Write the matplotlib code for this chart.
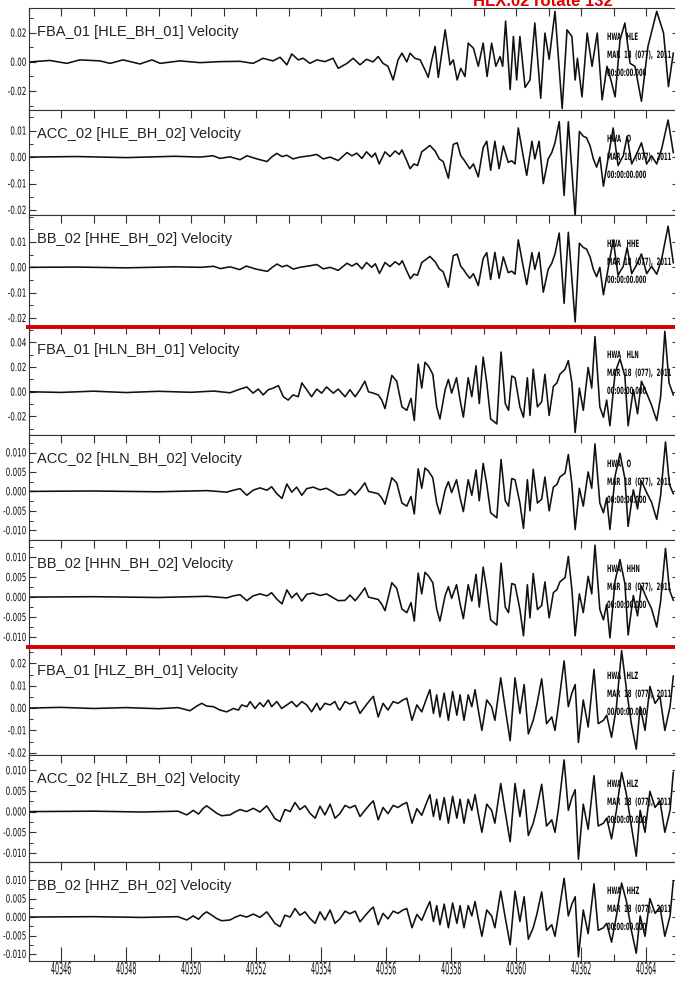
import matplotlib

matplotlib.use('Agg')
import matplotlib.pyplot as plt
import numpy as np
from matplotlib import patheffects
from matplotlib.ticker import FixedLocator, FormatStrFormatter, MultipleLocator
from matplotlib.transforms import Affine2D

plt.rcParams['axes.unicode_minus'] = False

W, H = 675, 988
T0 = 40345  # trace sample times are seconds after this mark
XLIM = (40345, 40365)

# (seconds after T0, velocity) picks along each trace
fba01_hle = [(0.05, 0), (0.66, 0.001), (1.18, -0.001), (1.58, 0.0014), (2.2, 0.0007), (2.51, -0.001),
             (2.91, 0.0014), (3.43, -0.0014), (3.8, 0.0014), (4.05, -0.001), (4.66, 0.0007), (5.28, -0.0005),
             (5.89, 0.0002), (6.51, 0.0004), (6.91, -0.001), (7.22, 0.0025), (7.52, 0.0007), (7.74, 0.0032),
             (7.95, -0.002), (8.1, 0.0055), (8.3, 0.0014), (8.45, 0.0025), (8.66, -0.001), (8.87, 0.0014),
             (9.12, 0.0002), (9.37, 0.0025), (9.53, -0.0044), (9.8, -0.001), (9.99, 0.0025), (10.2, -0.002),
             (10.4, 0.0018), (10.6, 0), (10.76, 0.0037), (10.91, -0.001), (11.06, -0.003), (11.22, -0.0124),
             (11.37, 0.0014), (11.49, 0.006), (11.64, 0), (11.74, 0.006), (11.89, 0.0025), (12.05, 0.0014),
             (12.2, -0.0055), (12.3, -0.0106), (12.41, 0.0014), (12.51, 0.0106), (12.61, -0.0106), (12.82, 0.022),
             (12.97, -0.002), (13.07, 0.0014), (13.19, -0.0124), (13.3, -0.0044), (13.43, -0.01), (13.53, 0.0129),
             (13.69, 0.0094), (13.84, -0.003), (13.99, 0.0129), (14.11, -0.01), (14.25, 0.0129), (14.38, -0.003),
             (14.51, 0.0037), (14.59, -0.003), (14.68, 0.028), (14.82, -0.019), (14.92, 0.0175), (15.02, -0.0124),
             (15.12, 0.0175), (15.28, -0.0175), (15.43, -0.0124), (15.58, 0.0267), (15.76, -0.025), (15.89, 0.0198),
             (16.02, 0.0018), (16.2, 0.0347), (16.42, -0.032), (16.57, 0.022), (16.72, 0.0175), (16.82, -0.0124),
             (16.89, 0.0025), (17.03, -0.024), (17.19, 0.0198), (17.34, -0.003), (17.5, 0.0198), (17.65, -0.026),
             (17.8, -0.003), (17.92, -0.0124), (18.05, -0.024), (18.2, 0.015), (18.35, 0.0267), (18.51, -0.001),
             (18.66, -0.003), (18.86, -0.027), (19.06, 0.0106), (19.33, 0.0347), (19.54, 0.0198), (19.69, -0.017),
             (19.84, 0.006)]

acc02_hle = [(0.05, 0), (1.5, 0.0002), (3.0, -0.0002), (4.5, 0.0003), (5.28, 0), (5.68, 0.0005), (5.89, -0.0005),
             (6.2, 0.0001), (6.51, -0.001), (6.72, 0.0005), (7.03, -0.0007), (7.34, -0.0017), (7.48, 0),
             (7.64, 0.0014), (7.8, 0.0002), (7.95, 0.0007), (8.14, -0.0007), (8.35, 0), (8.66, 0.0005),
             (8.87, 0.001), (9.07, -0.0007), (9.28, 0), (9.53, -0.0013), (9.8, 0.0017), (9.95, 0.0005),
             (10.1, 0.0015), (10.26, -0.0005), (10.4, 0.002), (10.56, 0), (10.67, 0.0015), (10.79, -0.0026),
             (10.97, 0.002), (11.12, 0.0002), (11.28, 0.0023), (11.41, 0.001), (11.49, 0.0027), (11.64, -0.0014),
             (11.74, -0.0044), (11.86, -0.0026), (11.97, -0.0032), (12.1, 0.002), (12.23, 0.0032), (12.35, 0.0044),
             (12.51, 0.0023), (12.64, -0.0007), (12.76, -0.0017), (12.92, -0.008), (13.07, 0.0048), (13.19, 0.0054),
             (13.3, 0.0005), (13.38, -0.0007), (13.48, -0.0026), (13.58, -0.0044), (13.69, -0.0026), (13.84, -0.0075),
             (13.99, 0.0036), (14.1, 0.006), (14.22, -0.005), (14.35, 0.006), (14.48, -0.0044), (14.61, 0.0042),
             (14.76, -0.002), (14.87, -0.0014), (14.97, -0.0026), (15.07, 0.011), (15.22, 0.0005), (15.33, -0.0069),
             (15.49, 0.006), (15.58, -0.0007), (15.71, 0.006), (15.84, -0.01), (15.99, -0.0007), (16.1, 0.0017),
             (16.2, 0.0054), (16.33, 0.0134), (16.48, -0.0145), (16.61, 0.0134), (16.82, -0.0223), (16.95, 0.0097),
             (17.07, 0.0079), (17.17, 0.0073), (17.28, 0.0042), (17.38, -0.0007), (17.48, -0.0038), (17.58, 0),
             (17.69, -0.011), (17.83, -0.0007), (17.99, 0.011), (18.14, -0.0032), (18.3, 0.0005), (18.42, 0.0079),
             (18.56, -0.0026), (18.71, 0.0011), (18.86, 0.0054), (19.02, -0.0026), (19.17, 0.0005), (19.33, -0.0026),
             (19.48, 0.003), (19.68, 0.014), (19.84, 0.0017)]

bb02_hhe = [(0.05, 0), (1.5, 0.0001), (3.0, -0.0002), (4.5, 0.0002), (5.3, 0), (5.7, 0.0004), (5.9, -0.0005),
            (6.2, 0.0002), (6.5, -0.0009), (6.7, 0.0005), (7.0, -0.0007), (7.35, -0.0016), (7.5, 0),
            (7.65, 0.0013), (7.8, 0.0002), (7.95, 0.0008), (8.15, -0.0007), (8.35, 0), (8.65, 0.0006),
            (8.87, 0.0011), (9.07, -0.0006), (9.28, 0), (9.53, -0.0012), (9.8, 0.0016), (9.95, 0.0005),
            (10.1, 0.0016), (10.26, -0.0006), (10.4, 0.0019), (10.56, 0), (10.67, 0.0014), (10.8, -0.0024),
            (10.97, 0.0019), (11.12, 0.0003), (11.28, 0.0022), (11.41, 0.001), (11.5, 0.0026), (11.64, -0.0015),
            (11.75, -0.0045), (11.86, -0.0027), (11.97, -0.0031), (12.1, 0.0019), (12.23, 0.0031), (12.35, 0.0043),
            (12.51, 0.0022), (12.64, -0.0006), (12.76, -0.0018), (12.92, -0.0078), (13.07, 0.0046), (13.19, 0.0052),
            (13.3, 0.0004), (13.38, -0.0008), (13.48, -0.0027), (13.58, -0.0043), (13.69, -0.0025),
            (13.84, -0.0072), (13.99, 0.0035), (14.1, 0.0058), (14.22, -0.0048), (14.35, 0.0059), (14.48, -0.0043),
            (14.61, 0.0041), (14.76, -0.0021), (14.87, -0.0015), (14.97, -0.0027), (15.07, 0.0108), (15.22, 0.0004),
            (15.33, -0.0068), (15.49, 0.0058), (15.58, -0.0008), (15.71, 0.0059), (15.84, -0.0098),
            (15.99, -0.0008), (16.1, 0.0016), (16.2, 0.0053), (16.33, 0.0135), (16.48, -0.0142), (16.61, 0.0138),
            (16.82, -0.0215), (16.95, 0.0095), (17.07, 0.0078), (17.17, 0.0072), (17.28, 0.0041), (17.38, -0.0008),
            (17.48, -0.0037), (17.58, 0), (17.69, -0.0108), (17.83, -0.0008), (17.99, 0.0108), (18.14, -0.0031),
            (18.3, 0.0004), (18.42, 0.0078), (18.56, -0.0025), (18.71, 0.001), (18.86, 0.0053), (19.02, -0.0025),
            (19.17, 0.0004), (19.33, -0.0027), (19.48, 0.0031), (19.68, 0.0162), (19.84, 0.0018)]

fba01_hln = [(0.05, 0), (1.0, -0.0005), (2.0, 0.0005), (3.0, -0.0006), (4.0, 0.0004), (5.0, -0.0004),
             (5.7, 0.0006), (6.2, -0.0008), (6.51, 0.0022), (6.72, 0.0039), (6.91, -0.0011), (7.07, 0.0022),
             (7.22, -0.0025), (7.38, 0.0017), (7.53, 0.003), (7.69, 0.005), (7.84, -0.004), (7.99, -0.0067),
             (8.14, -0.0025), (8.3, -0.004), (8.41, 0.0072), (8.56, 0.0017), (8.71, -0.004), (8.87, 0.0022),
             (9.02, -0.0011), (9.17, 0.0039), (9.38, -0.0011), (9.53, 0.0022), (9.74, -0.004), (9.89, 0.0017),
             (10.05, -0.004), (10.2, 0.0017), (10.35, 0.0086), (10.46, 0), (10.61, -0.0011), (10.76, -0.0025),
             (10.87, -0.0067), (10.97, -0.0136), (11.18, 0.0133), (11.33, 0.0086), (11.49, -0.0122),
             (11.64, -0.015), (11.77, -0.0053), (11.87, -0.0233), (11.99, 0.0225), (12.1, 0.003), (12.2, 0.0239),
             (12.3, 0.0211), (12.44, 0.0142), (12.56, -0.0122), (12.66, -0.022), (12.82, 0.0017), (12.92, 0.01),
             (13.02, -0.0011), (13.17, 0.0114), (13.28, -0.0067), (13.38, -0.0206), (13.53, 0.0114),
             (13.64, -0.004), (13.77, 0.0211), (13.87, -0.0095), (13.99, 0.0281), (14.1, 0.0072), (14.22, -0.022),
             (14.41, -0.026), (14.54, 0.0322), (14.67, -0.0095), (14.77, -0.015), (14.87, 0.0128), (14.97, 0.0114),
             (15.12, -0.0122), (15.23, -0.0206), (15.35, 0.0114), (15.43, -0.0192), (15.53, 0.0183),
             (15.66, -0.0122), (15.79, -0.008), (15.89, 0.0142), (16.02, -0.0192), (16.15, 0.0044), (16.26, 0.0072),
             (16.35, 0.0142), (16.51, 0.0183), (16.61, 0.0253), (16.72, 0.0072), (16.82, -0.033), (16.95, 0.003),
             (17.07, -0.015), (17.22, 0.0197), (17.33, 0.003), (17.43, 0.0447), (17.58, -0.0122), (17.69, -0.0206),
             (17.79, -0.0067), (17.89, -0.0275), (18.05, 0.0156), (18.2, 0.0267), (18.35, 0.0128), (18.45, -0.0275),
             (18.61, 0.0017), (18.74, -0.0178), (18.86, 0.0086), (19.02, -0.0011), (19.17, -0.0108),
             (19.33, -0.0233), (19.45, -0.004), (19.58, 0.049), (19.71, 0.0072), (19.84, -0.0025)]

acc02_hln = [(0.05, 0), (2.0, 0.0001), (4.0, -0.0001), (5.5, 0.0002), (6.1, -0.0002), (6.3, 0.0003),
             (6.51, 0.0007), (6.72, -0.001), (6.91, 0.0003), (7.12, 0.0009), (7.34, 0.0003), (7.48, 0.0012),
             (7.64, -0.0006), (7.8, -0.0018), (7.95, 0.0019), (8.1, -0.0002), (8.25, 0.0011), (8.41, -0.001),
             (8.56, 0.0007), (8.76, 0.0011), (8.97, 0.0004), (9.17, 0.0008), (9.38, -0.0002), (9.53, -0.001),
             (9.74, -0.0008), (9.89, 0.0005), (10.05, -0.0009), (10.2, 0.0005), (10.35, 0.0022), (10.46, 0.0),
             (10.61, -0.0003), (10.76, -0.0006), (10.87, -0.0017), (10.97, -0.0033), (11.18, 0.0035),
             (11.33, 0.0022), (11.49, -0.003), (11.64, -0.0038), (11.77, -0.0013), (11.87, -0.0058),
             (11.99, 0.0058), (12.1, 0.0008), (12.2, 0.006), (12.3, 0.0053), (12.44, 0.0035), (12.56, -0.003),
             (12.66, -0.0058), (12.82, 0.0004), (12.92, 0.0025), (13.02, -0.0003), (13.17, 0.003), (13.28, -0.0017),
             (13.38, -0.0052), (13.53, 0.003), (13.64, -0.001), (13.77, 0.0055), (13.87, -0.0024), (13.99, 0.0072),
             (14.1, 0.0018), (14.22, -0.0055), (14.41, -0.0068), (14.54, 0.0082), (14.67, -0.0024),
             (14.77, -0.0038), (14.87, 0.0033), (14.97, 0.003), (15.12, -0.003), (15.23, -0.0095), (15.35, 0.003),
             (15.43, -0.005), (15.53, 0.0057), (15.66, -0.003), (15.79, -0.002), (15.89, 0.0037), (16.02, -0.005),
             (16.15, 0.0011), (16.26, 0.0018), (16.35, 0.0037), (16.51, 0.0047), (16.61, 0.0095), (16.72, 0.0018),
             (16.82, -0.0098), (16.95, 0.0008), (17.07, -0.0038), (17.22, 0.005), (17.33, 0.0008), (17.43, 0.0122),
             (17.58, -0.003), (17.69, -0.0055), (17.79, -0.0017), (17.89, -0.0098), (18.05, 0.004), (18.2, 0.0098),
             (18.35, 0.0033), (18.45, -0.009), (18.61, 0.0004), (18.74, -0.0045), (18.86, 0.0027), (19.02, -0.0003),
             (19.17, -0.0028), (19.33, -0.0072), (19.45, -0.001), (19.6, 0.0127), (19.72, 0.0018), (19.84, -0.0006)]

bb02_hhn = [(0.05, 0), (2.0, 0.0001), (4.0, -0.0001), (5.5, 0.0002), (6.1, -0.0002), (6.3, 0.0003),
            (6.51, 0.0006), (6.72, -0.0009), (6.91, 0.0003), (7.12, 0.0008), (7.34, 0.0003), (7.48, 0.0011),
            (7.64, -0.0005), (7.8, -0.0017), (7.95, 0.0018), (8.1, -0.0002), (8.25, 0.001), (8.41, -0.001),
            (8.56, 0.0007), (8.76, 0.001), (8.97, 0.0004), (9.17, 0.0008), (9.38, -0.0002), (9.53, -0.0009),
            (9.74, -0.0008), (9.89, 0.0005), (10.05, -0.0009), (10.2, 0.0006), (10.35, 0.0023), (10.46, 0.0),
            (10.61, -0.0003), (10.76, -0.0006), (10.87, -0.0018), (10.97, -0.0034), (11.18, 0.0036),
            (11.33, 0.0022), (11.49, -0.003), (11.64, -0.0039), (11.77, -0.0014), (11.87, -0.006),
            (11.99, 0.006), (12.1, 0.0008), (12.2, 0.0062), (12.3, 0.0054), (12.44, 0.0036), (12.56, -0.003),
            (12.66, -0.006), (12.82, 0.0004), (12.92, 0.0026), (13.02, -0.0003), (13.17, 0.0031), (13.28, -0.0017),
            (13.38, -0.0054), (13.53, 0.0031), (13.64, -0.001), (13.77, 0.0057), (13.87, -0.0025), (13.99, 0.0075),
            (14.1, 0.0018), (14.22, -0.0057), (14.41, -0.007), (14.54, 0.0085), (14.67, -0.0025),
            (14.77, -0.0039), (14.87, 0.0034), (14.97, 0.0031), (15.12, -0.0031), (15.23, -0.0097), (15.35, 0.0031),
            (15.43, -0.0052), (15.53, 0.0059), (15.66, -0.0031), (15.79, -0.0021), (15.89, 0.0038), (16.02, -0.0052),
            (16.15, 0.0011), (16.26, 0.0019), (16.35, 0.0038), (16.51, 0.0049), (16.61, 0.0102), (16.72, 0.0019),
            (16.82, -0.0097), (16.95, 0.0008), (17.07, -0.0039), (17.22, 0.0052), (17.33, 0.0008), (17.43, 0.013),
            (17.58, -0.0031), (17.69, -0.0057), (17.79, -0.0018), (17.89, -0.0102), (18.05, 0.0041), (18.2, 0.0094),
            (18.35, 0.0034), (18.45, -0.0095), (18.61, 0.0004), (18.74, -0.0047), (18.86, 0.0028), (19.02, -0.0003),
            (19.17, -0.0029), (19.33, -0.0075), (19.45, -0.001), (19.6, 0.0122), (19.72, 0.0018), (19.84, -0.0008)]

fba01_hlz = [(0.05, 0), (1.0, 0.0003), (2.0, -0.0002), (3.0, 0.0002), (4.0, -0.0003), (4.6, 0.0002),
             (4.97, -0.0012), (5.18, 0.0009), (5.33, 0.0021), (5.48, 0.0009), (5.69, 0.0006), (5.89, -0.0009),
             (6.1, -0.0017), (6.3, -0.0002), (6.46, -0.0009), (6.56, 0.0014), (6.72, 0.0006), (6.82, 0.0029),
             (6.97, -0.0002), (7.12, 0.0024), (7.23, 0.0006), (7.38, 0.0036), (7.48, 0.0006), (7.64, 0.0029),
             (7.79, -0.0002), (7.95, 0.0014), (8.1, 0.0029), (8.25, 0.0006), (8.41, 0.0029), (8.56, 0.0014),
             (8.71, -0.0017), (8.87, 0.0021), (8.97, -0.0009), (9.12, 0.0021), (9.28, 0.0014), (9.43, 0.0029),
             (9.53, -0.0002), (9.58, -0.0009), (9.74, 0.0029), (9.89, 0.0018), (10.05, 0.0029), (10.2, -0.0024),
             (10.35, 0.0006), (10.51, 0.0036), (10.61, 0.0052), (10.76, -0.004), (10.91, 0.0021), (11.06, -0.0009),
             (11.22, 0.0029), (11.37, 0.0021), (11.52, 0.0036), (11.64, 0.0044), (11.8, -0.0055), (11.95, 0.0014),
             (12.1, -0.0017), (12.25, 0.0044), (12.35, 0.0082), (12.46, -0.0024), (12.56, 0.0059), (12.66, -0.004),
             (12.79, 0.0067), (12.92, -0.0055), (13.05, 0.0074), (13.18, -0.0032), (13.28, 0.0059), (13.4, -0.0055),
             (13.53, 0.0059), (13.64, 0.0006), (13.74, 0.0082), (13.84, -0.0009), (13.95, -0.01), (14.1, 0.0036),
             (14.25, 0.0006), (14.35, -0.0055), (14.53, 0.0135), (14.66, 0.0006), (14.82, -0.0146), (14.97, 0.0135),
             (15.12, -0.0024), (15.25, 0.0105), (15.38, -0.0116), (15.53, -0.0055), (15.64, 0.0014),
             (15.79, 0.0131), (15.94, -0.007), (16.1, -0.004), (16.2, -0.01), (16.3, 0.0006), (16.48, 0.0211),
             (16.61, 0.0006), (16.72, 0.0067), (16.82, 0.0105), (16.92, -0.0154), (17.07, 0.0036), (17.22, -0.0085),
             (17.4, 0.0173), (17.53, -0.007), (17.69, -0.0055), (17.79, -0.0032), (17.94, -0.0131), (18.09, 0.0006),
             (18.25, 0.0257), (18.4, 0.0082), (18.55, -0.007), (18.7, -0.0184), (18.82, 0.0006), (18.97, -0.01),
             (19.12, 0.0097), (19.28, 0.0021), (19.43, 0.0052), (19.58, -0.01), (19.74, 0.0006), (19.84, 0.0143)]

acc02_hlz = [(0.05, 0), (2.0, 0.0001), (3.5, -0.0001), (4.6, 0.0001), (4.87, -0.0008), (5.07, 0.0003),
             (5.23, -0.0006), (5.38, 0.0008), (5.48, 0.0014), (5.64, 0.0005), (5.79, -0.0004), (5.94, -0.001),
             (6.2, -0.0008), (6.35, -0.0001), (6.51, 0.0005), (6.71, 0), (6.92, 0.0008), (7.12, -0.0001),
             (7.33, 0.0014), (7.48, -0.0004), (7.58, -0.0017), (7.74, -0.0024), (7.89, 0.0005), (8.05, 0),
             (8.2, 0.0022), (8.35, 0.0005), (8.51, 0.0014), (8.66, -0.0004), (8.82, -0.0016), (8.97, 0.0013),
             (9.12, -0.0008), (9.28, 0.0018), (9.43, -0.0016), (9.58, -0.0005), (9.74, 0.0015), (9.89, 0.0009),
             (10.05, 0.0015), (10.2, -0.0012), (10.35, 0.0003), (10.51, 0.0018), (10.61, 0.0026), (10.76, -0.002),
             (10.91, 0.001), (11.06, -0.0005), (11.22, 0.0015), (11.37, 0.001), (11.52, 0.0018), (11.64, 0.0022),
             (11.8, -0.0028), (11.95, 0.0007), (12.1, -0.0009), (12.25, 0.0022), (12.35, 0.0041), (12.46, -0.0012),
             (12.56, 0.003), (12.66, -0.002), (12.79, 0.0034), (12.92, -0.0028), (13.05, 0.0037), (13.18, -0.0016),
             (13.28, 0.003), (13.4, -0.0028), (13.53, 0.003), (13.64, 0.0003), (13.74, 0.0041), (13.84, -0.0005),
             (13.95, -0.005), (14.1, 0.0018), (14.25, 0.0003), (14.35, -0.0028), (14.53, 0.0068), (14.66, 0.0003),
             (14.82, -0.0073), (14.97, 0.0068), (15.12, -0.0012), (15.25, 0.0053), (15.38, -0.0058),
             (15.53, -0.0028), (15.64, 0.0007), (15.79, 0.0066), (15.94, -0.0035), (16.1, -0.002), (16.2, -0.005),
             (16.3, 0.0003), (16.48, 0.0125), (16.61, 0.0003), (16.72, 0.0034), (16.82, 0.0053), (16.92, -0.0115),
             (17.07, 0.0018), (17.22, -0.0043), (17.4, 0.0087), (17.53, -0.0035), (17.69, -0.0028),
             (17.79, -0.0016), (17.94, -0.0066), (18.09, 0.0003), (18.25, 0.0095), (18.4, 0.0041), (18.55, -0.0035),
             (18.7, -0.0108), (18.82, 0.0003), (18.97, -0.005), (19.12, 0.0049), (19.28, 0.001), (19.43, 0.0026),
             (19.58, -0.005), (19.74, 0.0003), (19.84, 0.0095)]

bb02_hhz = [(0.05, 0), (2.0, 0.0001), (3.5, -0.0001), (4.6, 0.0001), (4.87, -0.0008), (5.07, 0.0003),
            (5.23, -0.0006), (5.38, 0.0008), (5.48, 0.0014), (5.64, 0.0005), (5.79, -0.0004), (5.94, -0.001),
            (6.2, -0.0008), (6.35, -0.0001), (6.51, 0.0005), (6.71, 0), (6.92, 0.0008), (7.12, -0.0001),
            (7.33, 0.0014), (7.48, -0.0004), (7.58, -0.0017), (7.74, -0.0026), (7.89, 0.0005), (8.05, 0),
            (8.2, 0.0023), (8.35, 0.0005), (8.51, 0.0014), (8.66, -0.0004), (8.82, -0.0017), (8.97, 0.0014),
            (9.12, -0.0008), (9.28, 0.0019), (9.43, -0.0017), (9.58, -0.0005), (9.74, 0.0016), (9.89, 0.0009),
            (10.05, 0.0016), (10.2, -0.0013), (10.35, 0.0003), (10.51, 0.0019), (10.61, 0.0027), (10.76, -0.0021),
            (10.91, 0.001), (11.06, -0.0005), (11.22, 0.0016), (11.37, 0.001), (11.52, 0.0019), (11.64, 0.0023),
            (11.8, -0.0029), (11.95, 0.0007), (12.1, -0.0009), (12.25, 0.0023), (12.35, 0.0042), (12.46, -0.0012),
            (12.56, 0.0031), (12.66, -0.0021), (12.79, 0.0035), (12.92, -0.0029), (13.05, 0.0038), (13.18, -0.0017),
            (13.28, 0.0031), (13.4, -0.0029), (13.53, 0.0031), (13.64, 0.0003), (13.74, 0.0042), (13.84, -0.0005),
            (13.95, -0.0052), (14.1, 0.0019), (14.25, 0.0003), (14.35, -0.0029), (14.53, 0.007), (14.66, 0.0003),
            (14.82, -0.0075), (14.97, 0.007), (15.12, -0.0012), (15.25, 0.0055), (15.38, -0.006),
            (15.53, -0.0029), (15.64, 0.0007), (15.79, 0.0068), (15.94, -0.0036), (16.1, -0.0021), (16.2, -0.0052),
            (16.3, 0.0003), (16.48, 0.0105), (16.61, 0.0003), (16.72, 0.0035), (16.82, 0.0055), (16.92, -0.0108),
            (17.07, 0.0019), (17.22, -0.0045), (17.4, 0.009), (17.53, -0.0036), (17.69, -0.0029),
            (17.79, -0.0017), (17.94, -0.0068), (18.09, 0.0003), (18.25, 0.0092), (18.4, 0.0042), (18.55, -0.0036),
            (18.7, -0.0098), (18.82, 0.0003), (18.97, -0.0052), (19.12, 0.005), (19.28, 0.001), (19.43, 0.0027),
            (19.58, -0.0052), (19.74, 0.0003), (19.84, 0.0098)]

channel_names = ['FBA_01 [HLE_BH_01] Velocity', 'ACC_02 [HLE_BH_02] Velocity', 'BB_02 [HHE_BH_02] Velocity',
                 'FBA_01 [HLN_BH_01] Velocity', 'ACC_02 [HLN_BH_02] Velocity', 'BB_02 [HHN_BH_02] Velocity',
                 'FBA_01 [HLZ_BH_01] Velocity', 'ACC_02 [HLZ_BH_02] Velocity', 'BB_02 [HHZ_BH_02] Velocity']
stamp_codes = ['HLE', 'O', 'HHE', 'HLN', 'O', 'HHN', 'HLZ', 'HLZ', 'HHZ']
traces = [fba01_hle, acc02_hle, bb02_hhe, fba01_hln, acc02_hln, bb02_hhn, fba01_hlz, acc02_hlz, bb02_hhz]

y_ranges = [(-0.033, 0.037), (-0.0219, 0.0178), (-0.0231, 0.0206), (-0.035, 0.0533), (-0.0125, 0.0145),
            (-0.0125, 0.0143), (-0.021, 0.0273), (-0.0122, 0.0137), (-0.0119, 0.0149)]
y_ticks = [[-0.02, 0.0, 0.02], [-0.02, -0.01, 0.0, 0.01], [-0.02, -0.01, 0.0, 0.01], [-0.02, 0.0, 0.02, 0.04],
           [-0.01, -0.005, 0.0, 0.005, 0.01], [-0.01, -0.005, 0.0, 0.005, 0.01],
           [-0.02, -0.01, 0.0, 0.01, 0.02], [-0.01, -0.005, 0.0, 0.005, 0.01], [-0.01, -0.005, 0.0, 0.005, 0.01]]
y_minor = [0.01, 0.005, 0.005, 0.01, 0.0025, 0.0025, 0.005, 0.0025, 0.0025]
y_fmt = ['%.2f', '%.2f', '%.2f', '%.2f', '%.3f', '%.3f', '%.2f', '%.3f', '%.3f']

TITLE = 'HLX.02 rotate 132'
STAMP_DATE = 'MAR  18  (077),  2011'
STAMP_TIME = '00:00:00.000'

# layout in pixels (top, bottom) of every panel
PANEL_PX = [(8, 110), (110, 215), (215, 326), (326, 435), (435, 540), (540, 647), (647, 755), (755, 862),
            (862, 961)]
AX_LEFT, AX_RIGHT = 28.5, 678.5
RED_LINES_PX = [327, 647]
INK = '#101010'
FRAME = '#333333'


class Tall(patheffects.AbstractPathEffect):
    """Stretch glyphs vertically so a small font reads like a condensed face."""

    def __init__(self, sy, anchor='center'):
        super().__init__()
        self.sy = sy
        self.anchor = anchor

    def draw_path(self, renderer, gc, tpath, affine, rgbFace=None):
        if self.anchor == 'baseline':
            y0 = affine.get_matrix()[1, 2]
        else:
            ext = tpath.get_extents(affine)
            y0 = 0.5 * (ext.y0 + ext.y1)
        tall = affine + Affine2D().translate(0, -y0).scale(1, self.sy).translate(0, y0)
        renderer.draw_path(gc, tpath, tall, rgbFace)


fig = plt.figure(figsize=(W / 100, H / 100), dpi=100)

for i, (top, bot) in enumerate(PANEL_PX):
    ax = fig.add_axes([AX_LEFT / W, 1 - bot / H, (AX_RIGHT - AX_LEFT) / W, (bot - top) / H])
    t, v = np.array(traces[i]).T
    ax.plot(T0 + t, v, color=INK, lw=1.15, solid_joinstyle='round')
    ax.set_xlim(*XLIM)
    ax.set_ylim(*y_ranges[i])

    ax.yaxis.set_major_locator(FixedLocator(y_ticks[i]))
    ax.yaxis.set_minor_locator(MultipleLocator(y_minor[i]))
    ax.yaxis.set_major_formatter(FormatStrFormatter(y_fmt[i]))
    ax.tick_params(axis='y', which='both', direction='in', left=True, right=True, colors=FRAME,
                   labelcolor='#111111', labelsize=5.2, pad=1.5)
    ax.tick_params(axis='y', which='major', length=5, width=0.8)
    ax.tick_params(axis='y', which='minor', length=3, width=0.7)
    for lab in ax.get_yticklabels():
        lab.set_path_effects([Tall(1.55)])

    if i < len(PANEL_PX) - 1:
        ax.xaxis.set_major_locator(MultipleLocator(1))
        ax.tick_params(axis='x', which='major', direction='in', top=True, bottom=False, labelbottom=False,
                       length=6, width=0.8, colors=FRAME)
    else:
        ax.xaxis.set_major_locator(MultipleLocator(2))
        ax.xaxis.set_minor_locator(MultipleLocator(1))
        ax.xaxis.set_major_formatter(FormatStrFormatter('%d'))
        ax.tick_params(axis='x', which='both', direction='in', top=False, bottom=True, colors=FRAME,
                       labelcolor='#111111', labelsize=4.6, pad=4)
        ax.tick_params(axis='x', which='major', length=10, width=0.8)
        ax.tick_params(axis='x', which='minor', length=5, width=0.8)
        for lab in ax.get_xticklabels():
            lab.set_path_effects([Tall(2.6)])
        sec = ax.secondary_xaxis('top')
        sec.set_xticks(np.arange(XLIM[0], XLIM[1] + 1))
        sec.tick_params(direction='in', length=6, width=0.8, labeltop=False, colors=FRAME)
        sec.spines['top'].set_linewidth(0.8)
        sec.spines['top'].set_color(FRAME)

    for sp in ax.spines.values():
        sp.set_linewidth(0.8)
        sp.set_color(FRAME)

    ax.annotate(channel_names[i], xy=(0, 1), xycoords='axes fraction', xytext=(8.5, -24),
                textcoords='offset pixels', ha='left', va='center', fontsize=10.5,
                family='Liberation Sans', color='#222222')
    for k, line in enumerate([f'HWA   {stamp_codes[i]}', STAMP_DATE, STAMP_TIME]):
        ax.annotate(line, xy=(0, 1), xycoords='axes fraction', xytext=(578.5, -32 - 18 * k),
                    textcoords='offset pixels', ha='left', va='baseline', fontsize=3.8,
                    fontweight='bold', color='#0a0a0a', path_effects=[Tall(1.9, 'baseline')])

for y in RED_LINES_PX:
    fig.add_artist(plt.Line2D([26 / W, 1], [1 - y / H, 1 - y / H], transform=fig.transFigure,
                              color='#d00000', lw=2.8, solid_capstyle='butt', zorder=10))

fig.text(543 / W, 1 - 6 / H, TITLE, ha='center', va='baseline', color='#e00000', fontsize=12,
         fontweight='bold', family='Liberation Sans')

fig.savefig('out.png', dpi=100)
